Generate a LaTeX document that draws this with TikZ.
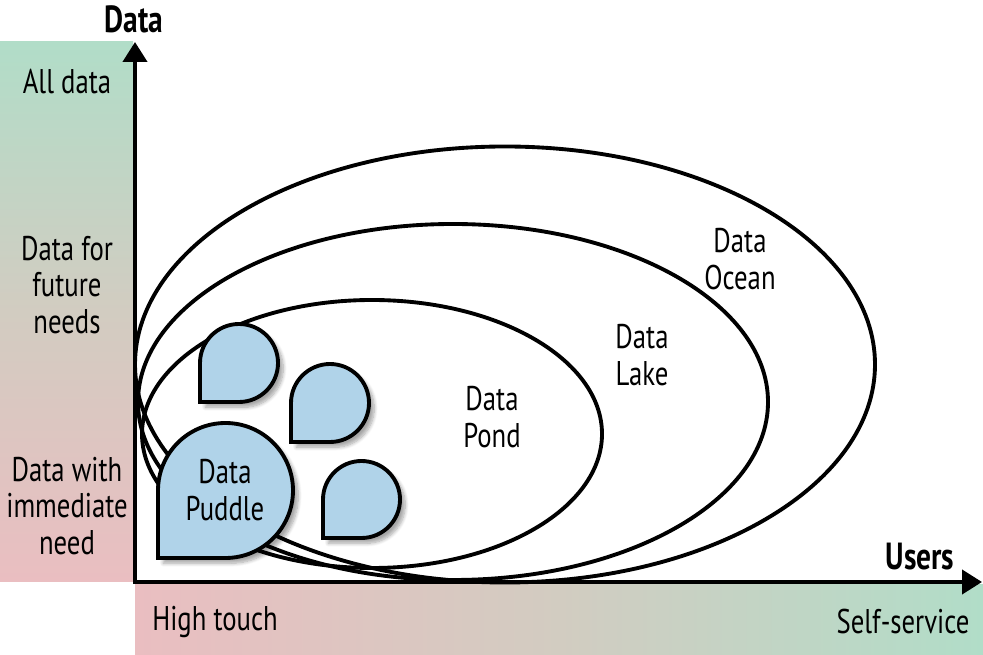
\documentclass[tikz,border=0pt]{standalone}
\usepackage{fontspec}
\setmainfont{PT Sans}[FakeStretch=0.78]
\usetikzlibrary{arrows.meta}
\usetikzlibrary{shadows.blur}

\definecolor{bandgreen}{RGB}{177,221,200}
\definecolor{bandpink}{RGB}{234,190,193}
\definecolor{bandmid}{RGB}{210,204,193}
\definecolor{puddleblue}{RGB}{176,211,233}

\begin{document}
\begin{tikzpicture}[x=0.02cm,y=0.02cm,
        axis/.style={line width=2.3pt,{Triangle[length=0.4cm,width=0.48cm]}-{Triangle[length=0.4cm,width=0.48cm]}},
        pool/.style={line width=2.2pt},
        puddle/.style={line width=2.2pt,fill=puddleblue,
            blur shadow={shadow xshift=3pt,shadow yshift=-3pt,shadow blur steps=8,shadow opacity=35}},
        levelname/.style={font=\fontsize{19.5}{21}\selectfont,align=center,inner sep=0pt},
        axisname/.style={font=\fontsize{21.5}{22}\selectfont\bfseries,inner sep=0pt}]

                \useasboundingbox (0,0) rectangle (983,655);

                \shade[top color=bandgreen,bottom color=bandpink,middle color=bandmid] (0,73) rectangle (133,613);
                \shade[left color=bandpink,right color=bandgreen,middle color=bandmid] (135,0) rectangle (983,70);

                \draw[pool] (505,290.5) ellipse (370 and 218);
                \draw[pool] (453,253) ellipse (315 and 178);
                \draw[pool] (372,221) ellipse (230 and 134);

                \coordinate (O) at (135,73);
                \coordinate (ytop) at (135,613);
                \coordinate (xend) at (982,73);
                \draw[axis] (ytop) -- (O) -- (xend);

                \foreach \x/\y/\r in {200/253/39, 291/213/39, 323/117/38.5, 158/97/67.5}
                    \draw[puddle] (\x,\y) -- ++(0,\r) arc[start angle=180,end angle=-90,radius=\r] -- cycle;

                \node[axisname] (datatitle) at (134,636) {Data};
                \node[axisname] (users) at (920,98) {Users};

                \node[levelname] (alldata) at (67,573) {All data};
                \node[levelname] (future) at (67,370) {Data for\\future\\needs};
                \node[levelname] (immediate) at (67,149) {Data with\\immediate\\need};

                \node[levelname] (hightouch) at (215,33) {High touch};
                \node[levelname] (selfservice) at (903,33) {Self-service};

                \node[levelname] (puddletext) at (225,165) {Data\\Puddle};
                \node[levelname] (pondtext) at (492,238) {Data\\Pond};
                \node[levelname] (laketext) at (642,300) {Data\\Lake};
                \node[levelname] (oceantext) at (740,396) {Data\\Ocean};
            \end{tikzpicture}
\end{document}
